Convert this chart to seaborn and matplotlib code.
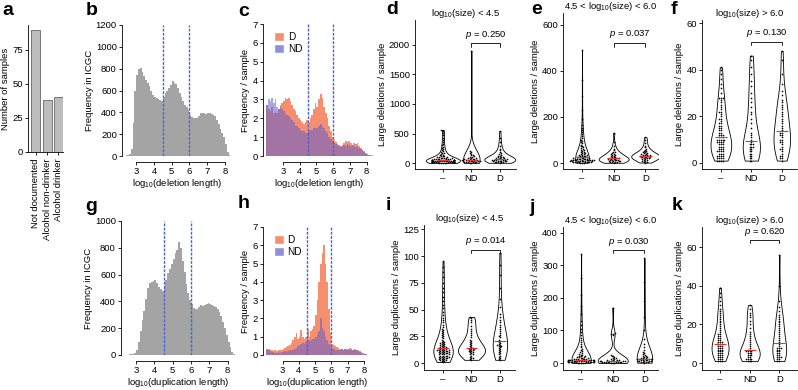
import matplotlib
matplotlib.use('Agg')
import warnings
import matplotlib.pyplot as plt
from matplotlib.patches import Patch
import numpy as np
import pandas as pd
import seaborn as sns

warnings.filterwarnings('ignore')

# ---- panel a: samples per group
groups_a = ['Not documented', 'Alcohol non-drinker', 'Alcohol drinker']
n_samples = [89, 38, 40]

# ---- histograms, 0.1-wide bins; first bin edge of each
icgc_start = 2.4     # panels b, g
grp_start = 2.0      # panels c, h

del_icgc = [5, 10, 20, 60, 300, 600, 740, 800, 810, 770,
            730, 700, 670, 640, 600, 560, 540, 530, 520, 515,
            500, 540, 580, 600, 620, 650, 690, 670, 660, 620,
            580, 540, 500, 470, 450, 420, 380, 360, 350, 345,
            350, 370, 390, 395, 390, 385, 395, 390, 385, 380,
            370, 330, 290, 250, 210, 170, 110, 40, 5, 0]
dup_icgc = [3, 3, 4, 5, 8, 15, 40, 100, 180, 260,
            330, 420, 500, 540, 545, 555, 560, 540, 510, 490,
            480, 500, 560, 610, 640, 680, 720, 760, 780, 840,
            800, 700, 620, 530, 460, 410, 380, 350, 340, 345,
            360, 370, 365, 375, 380, 385, 380, 370, 365, 360,
            345, 320, 290, 250, 200, 150, 100, 60, 25, 5]

del_nd = [2.7, 3.0, 2.9, 3.1, 2.8, 3.0, 2.6, 2.5, 2.6, 2.5,
          2.4, 2.3, 2.2, 2.1, 2.0, 1.9, 1.8, 1.6, 1.6, 1.5,
          1.4, 1.3, 1.3, 1.2, 1.2, 1.3, 1.4, 1.4, 1.5, 1.5,
          1.5, 1.6, 1.7, 1.6, 1.5, 1.3, 1.2, 1.0, 0.9, 0.8,
          0.7, 0.65, 0.6, 0.55, 0.5, 0.55, 0.6, 0.55, 0.65, 0.6,
          0.55, 0.6, 0.55, 0.5, 0.55, 0.45, 0.35, 0.3, 0.2, 0.12,
          0.06, 0.03, 0.02, 0.01]
del_d = [2.7, 2.5, 2.4, 2.6, 2.3, 2.4, 2.3, 2.5, 2.7, 2.8,
         2.9, 3.1, 3.0, 3.1, 2.9, 2.7, 2.5, 2.4, 2.2, 2.0,
         1.9, 1.8, 1.7, 1.8, 1.9, 1.8, 2.0, 2.2, 2.5, 2.8,
         2.6, 3.0, 3.3, 3.1, 2.6, 2.3, 2.0, 1.6, 1.3, 1.0,
         0.85, 0.75, 0.65, 0.6, 0.55, 0.6, 0.7, 0.8, 0.75, 0.8,
         0.7, 0.6, 0.7, 0.65, 0.7, 0.55, 0.4, 0.3, 0.25, 0.15,
         0.1, 0.06, 0.05, 0.04]
dup_nd = [0.3, 0.25, 0.2, 0.15, 0.15, 0.12, 0.12, 0.15, 0.12, 0.15,
          0.15, 0.2, 0.18, 0.22, 0.25, 0.3, 0.3, 0.35, 0.4, 0.5,
          0.55, 0.6, 0.65, 0.6, 0.7, 0.8, 0.75, 0.8, 0.85, 0.9,
          1.0, 1.1, 1.3, 2.0, 1.5, 1.3, 1.0, 0.8, 0.6, 0.5,
          0.4, 0.35, 0.3, 0.3, 0.3, 0.3, 0.35, 0.3, 0.35, 0.35,
          0.35, 0.3, 0.35, 0.3, 0.3, 0.25, 0.2, 0.15, 0.12, 0.08,
          0.05, 0.03, 0.02, 0.01]
dup_d = [0.35, 0.35, 0.3, 0.25, 0.2, 0.25, 0.2, 0.25, 0.3, 0.3,
         0.35, 0.4, 0.45, 0.5, 0.55, 0.65, 0.8, 1.0, 1.2, 0.9,
         1.0, 1.35, 1.0, 0.85, 1.0, 1.4, 1.0, 1.3, 1.4, 1.6,
         2.2, 3.0, 4.0, 5.0, 5.6, 6.0, 5.0, 4.0, 2.5, 1.2,
         0.6, 0.55, 0.5, 0.45, 0.4, 0.35, 0.35, 0.3, 0.35, 0.3,
         0.35, 0.4, 0.35, 0.3, 0.35, 0.3, 0.25, 0.2, 0.15, 0.1,
         0.06, 0.04, 0.02, 0.01]

# ---- per-sample counts (violins)
cats = ['–', 'ND', 'D']

d_none = [3, 5, 6, 8, 9, 10, 11, 12, 13, 14, 15, 16, 17, 18, 19, 20, 21, 22, 23, 24,
          25, 26, 27, 28, 29, 30, 31, 32, 33, 34, 35, 36, 37, 38, 39, 40, 41, 42, 43, 44,
          45, 46, 47, 48, 49, 50, 52, 54, 55, 57, 59, 61, 63, 65, 67, 70, 72, 75, 78, 81,
          85, 88, 92, 96, 101, 106, 112, 118, 125, 133, 142, 152, 163, 175, 188, 202, 218,
          235, 255, 278, 300, 330, 360, 395, 430, 470, 510, 545, 560]
d_nd = [4, 8, 12, 15, 18, 20, 22, 25, 28, 30, 33, 35, 38, 40, 42, 45, 48, 50, 52, 55,
        58, 62, 66, 70, 75, 80, 86, 92, 100, 108, 118, 130, 145, 160, 175, 190, 210, 1900]
d_d = [5, 10, 14, 18, 22, 25, 28, 31, 34, 37, 40, 43, 46, 49, 52, 55, 58, 61, 64, 68,
       72, 76, 80, 85, 90, 96, 102, 110, 118, 128, 140, 155, 170, 190, 215, 245, 290, 350,
       430, 540]

e_none = [1, 2, 2, 3, 3, 4, 4, 5, 5, 6, 6, 7, 7, 8, 8, 9, 9, 10, 10, 11, 11, 12, 12, 13,
          13, 14, 14, 15, 15, 16, 16, 17, 17, 18, 18, 19, 20, 21, 22, 23, 24, 25, 26, 27,
          28, 29, 30, 31, 32, 34, 35, 37, 39, 41, 43, 45, 47, 50, 52, 55, 58, 61, 65, 68,
          72, 76, 80, 85, 90, 96, 102, 110, 118, 126, 135, 145, 152, 165, 190, 230, 290,
          360, 490]
e_nd = [1, 3, 4, 5, 6, 7, 8, 9, 10, 11, 12, 13, 14, 15, 16, 17, 18, 19, 20, 21, 22, 24,
        26, 28, 30, 32, 34, 36, 38, 40, 43, 46, 50, 55, 62, 72, 90, 130]
e_d = [2, 4, 6, 8, 10, 12, 14, 16, 18, 20, 21, 22, 24, 25, 26, 27, 28, 29, 30, 31, 32,
       33, 34, 35, 36, 38, 40, 42, 44, 46, 48, 51, 54, 58, 62, 68, 76, 88, 100, 112]

f_none = [1, 1, 1, 1, 2, 2, 2, 2, 3, 3, 3, 3, 4, 4, 4, 5, 5, 5, 5, 6, 6, 6, 7, 7, 7, 8,
          8, 8, 9, 9, 9, 9, 10, 10, 10, 10, 10, 11, 11, 11, 12, 12, 12, 13, 13, 14, 14,
          15, 15, 16, 16, 17, 17, 18, 19, 19, 20, 21, 22, 22, 23, 24, 25, 26, 27, 28, 28,
          28, 30, 32, 34, 36, 38, 40, 41]
f_nd = [1, 1, 2, 2, 3, 3, 4, 4, 5, 5, 6, 6, 7, 7, 7, 8, 8, 8, 9, 10, 11, 12, 13, 15, 17,
        19, 21, 22, 24, 26, 28, 30, 33, 35, 38, 41, 44, 46]
f_d = [1, 2, 2, 3, 3, 4, 5, 6, 6, 7, 8, 9, 9, 10, 10, 11, 12, 12, 13, 13, 14, 15, 16,
       17, 18, 19, 20, 21, 22, 23, 24, 25, 26, 27, 29, 31, 34, 38, 44, 48]

i_none = [1, 2, 2, 3, 3, 3, 4, 4, 4, 5, 5, 5, 5, 6, 6, 6, 6, 7, 7, 7, 7, 8, 8, 8, 8, 9,
          9, 9, 9, 10, 10, 10, 10, 11, 11, 11, 11, 12, 12, 12, 12, 12, 13, 13, 13, 14, 14,
          14, 15, 15, 15, 16, 16, 17, 17, 18, 18, 19, 19, 20, 20, 21, 22, 23, 24, 25, 26,
          27, 28, 29, 30, 31, 32, 34, 36, 38, 40, 42, 45, 48, 51, 54, 58, 62, 66, 70, 75,
          80, 85, 90, 95]
i_nd = [3, 4, 5, 5, 6, 7, 8, 8, 9, 10, 10, 11, 11, 12, 12, 13, 13, 13, 14, 14, 15, 16,
        17, 18, 19, 20, 21, 22, 24, 26, 28, 30, 32, 35, 38, 40, 42, 43]
i_d = [3, 4, 5, 6, 7, 8, 9, 10, 11, 12, 13, 14, 15, 16, 16, 17, 17, 18, 19, 20, 21, 22,
       24, 25, 26, 28, 30, 32, 34, 36, 38, 40, 43, 46, 52, 60, 70, 82, 92, 103]

j_none = [0, 0, 1, 1, 1, 2, 2, 2, 2, 3, 3, 3, 3, 4, 4, 4, 4, 5, 5, 5, 5, 6, 6, 6, 6, 7,
          7, 7, 7, 8, 8, 8, 8, 9, 9, 9, 10, 10, 10, 11, 11, 12, 12, 13, 13, 14, 15, 16,
          17, 18, 19, 20, 21, 22, 24, 26, 28, 30, 33, 36, 40, 44, 48, 53, 58, 64, 70, 78,
          86, 95, 105, 118, 130, 150, 175, 210, 260, 335]
j_nd = [0, 1, 1, 2, 2, 3, 3, 3, 3, 4, 4, 4, 5, 5, 5, 5, 6, 6, 6, 7, 7, 8, 8, 9, 10, 11,
        12, 14, 16, 18, 20, 22, 25, 85, 88, 90, 92, 170]
j_d = [1, 2, 3, 3, 4, 5, 5, 6, 7, 7, 8, 9, 10, 10, 11, 11, 12, 12, 13, 14, 15, 16, 17,
       18, 20, 22, 24, 27, 30, 34, 40, 48, 58, 75, 100, 140, 190, 250, 322, 12]

k_none = [1, 1, 1, 2, 2, 2, 3, 3, 3, 4, 4, 4, 5, 5, 5, 6, 6, 6, 7, 7, 7, 8, 8, 8, 9, 9,
          9, 10, 10, 10, 10, 11, 11, 11, 12, 12, 13, 13, 14, 14, 15, 15, 16, 17, 18, 19,
          20, 21, 22, 23, 24, 25, 26, 27, 28, 30, 32, 34, 36, 39]
k_nd = [1, 1, 1, 2, 2, 2, 2, 3, 3, 4, 4, 4, 5, 5, 5, 6, 6, 6, 6, 7, 7, 8, 9, 10, 11, 12,
        13, 14, 15, 16, 18, 20, 22, 24, 25, 26, 28, 30]
k_d = [1, 1, 2, 2, 3, 3, 3, 4, 4, 5, 5, 6, 6, 7, 7, 8, 8, 8, 9, 10, 11, 12, 13, 14, 15,
       16, 17, 18, 19, 20, 21, 22, 23, 24, 25, 27, 29, 32, 40, 56]

p_values = ['0.250', '0.037', '0.130', '0.014', '0.030', '0.620']
titles = [r'log$_{10}$(size) < 4.5', r'4.5 < log$_{10}$(size) < 6.0',
          r'log$_{10}$(size) > 6.0']

# ---- style
sns.set_theme(style='ticks')
plt.rcParams['font.family'] = ['Liberation Sans', 'DejaVu Sans']
plt.rcParams.update({
    'mathtext.fontset': 'custom',
    'mathtext.rm': 'Liberation Sans',
    'mathtext.it': 'Liberation Sans:italic',
    'mathtext.default': 'regular',
    'axes.linewidth': 0.6,
    'xtick.major.width': 0.6, 'ytick.major.width': 0.6,
    'xtick.major.size': 2.5, 'ytick.major.size': 2.5,
    'xtick.major.pad': 1.2, 'ytick.major.pad': 1.2,
    'xtick.labelsize': 6.8, 'ytick.labelsize': 6.8,
    'axes.labelsize': 6.8, 'axes.labelpad': 1.5,
    'text.color': 'black', 'axes.labelcolor': 'black',
    'xtick.color': 'black', 'ytick.color': 'black', 'axes.edgecolor': 'black',
})

W, H = 798, 390
fig = plt.figure(figsize=(W / 100, H / 100), dpi=100)


def box(l, t, r, b):
    return fig.add_axes([l / W, 1 - b / H, (r - l) / W, (b - t) / H])


def letter(x, y, s):
    fig.text(x / W, 1 - y / H, s, fontsize=14, fontweight='bold', va='top', ha='left')


GREY = '#a4a4a4'
COL_D = '#f67b55'
COL_ND = '#5f5fd0'
DASH = '#4a62d6'

# ---- a
ax = box(28, 25, 63, 152)
sns.barplot(x=groups_a, y=n_samples, color='#bdbdbd', edgecolor='#666666',
            linewidth=0.6, width=0.8, saturation=1, ax=ax)
ax.set_ylim(0, 93)
ax.set_xlim(-0.7, 2.4)
ax.set_yticks([0, 25, 50, 75])
ax.tick_params(axis='x', rotation=90, pad=2)
ax.set_ylabel('Number of samples')
ax.set_xlabel('')
sns.despine(ax=ax)
letter(2, 2, 'a')


def hist_panel(ax, start, heights, color, alpha):
    n = len(heights)
    edges = [round(start + 0.1 * k, 2) for k in range(n + 1)]
    df = pd.DataFrame({'x': np.array(edges[:-1]) + 0.05, 'w': heights})
    sns.histplot(data=df, x='x', weights='w', bins=edges, color=color, alpha=alpha,
                 edgecolor='none', linewidth=0, ax=ax)


def finish_hist(ax, ytop, ystep, xlab, ylab):
    for v in (4.5, 6.0):
        ax.axvline(v, color=DASH, ls=(0, (2, 1)), lw=1)
    ax.set_ylim(0, ytop)
    ax.set_yticks(np.arange(0, ytop + 0.01, ystep))
    ax.set_xticks([3, 4, 5, 6, 7, 8])
    ax.set_xlabel(xlab, labelpad=0.3)
    ax.set_ylabel(ylab)
    sns.despine(ax=ax)
    ax.spines['bottom'].set_position(('outward', 4.5))
    ax.spines['bottom'].set_bounds(3, 8)
    ax.spines['left'].set_bounds(0, ytop)


def add_legend(ax):
    ax.legend(handles=[Patch(facecolor='#f5906e', label='D'),
                       Patch(facecolor='#8f8fdc', label='ND')],
              loc='upper left', bbox_to_anchor=(0.06, 0.97), frameon=False, fontsize=7.2,
              handlelength=1, handleheight=1, handletextpad=0.4, labelspacing=0.2,
              borderaxespad=0)


# ---- b
ax = box(122, 25, 233, 156)
hist_panel(ax, icgc_start, del_icgc, GREY, 1)
ax.set_xlim(2.2, 8.45)
finish_hist(ax, 1200, 200, r'log$_{10}$(deletion length)', 'Frequency in ICGC')
letter(86, 2, 'b')

# ---- c
ax = box(263, 24, 375, 156)
hist_panel(ax, grp_start, del_d, COL_D, 0.85)
hist_panel(ax, grp_start, del_nd, COL_ND, 0.55)
ax.set_xlim(1.8, 8.5)
finish_hist(ax, 7, 1, r'log$_{10}$(deletion length)', 'Frequency / sample')
add_legend(ax)
letter(238, 3, 'c')

# ---- g
ax = box(121, 221, 236, 355)
hist_panel(ax, icgc_start, dup_icgc, GREY, 1)
ax.set_xlim(2.18, 8.45)
finish_hist(ax, 1000, 200, r'log$_{10}$(duplication length)', 'Frequency in ICGC')
letter(85, 198, 'g')

# ---- h
ax = box(263, 227, 372, 355)
hist_panel(ax, grp_start, dup_d, COL_D, 0.85)
hist_panel(ax, grp_start, dup_nd, COL_ND, 0.55)
ax.set_xlim(1.8, 8.5)
finish_hist(ax, 7, 1, r'log$_{10}$(duplication length)', 'Frequency / sample')
add_legend(ax)
letter(238, 195, 'h')


def violin_panel(rect, data, ylim, yticks, xlim, title, pval, brk, ylab, vwidth=0.9):
    ax = box(*rect)
    df = pd.DataFrame({'grp': sum([[c] * len(v) for c, v in zip(cats, data)], []),
                       'val': sum([list(v) for v in data], [])})
    sns.violinplot(data=df, x='grp', y='val', order=cats, inner=None, cut=0,
                   density_norm='area', width=vwidth, color='white', linecolor='black',
                   linewidth=0.6, saturation=1, ax=ax)
    sns.swarmplot(data=df, x='grp', y='val', order=cats, color='black', size=1.2,
                  ax=ax)
    for i, v in enumerate(data):
        ax.hlines(np.median(v), i - 0.2, i + 0.2, color='#e8302c', lw=0.8, zorder=5)
    ax.set_ylim(*ylim)
    ax.set_xlim(*xlim)
    ax.set_yticks(yticks)
    ax.set_xlabel('')
    ax.set_ylabel(ylab)
    ax.set_title(title, fontsize=6.8, pad=3)
    tr = ax.get_xaxis_transform()
    ax.plot([1, 1, 2, 2], [brk - 0.025, brk, brk, brk - 0.025], color='black', lw=0.6,
            transform=tr, clip_on=False)
    ax.text(1.5, brk + 0.015, r'$\mathit{p}$ = ' + pval, transform=tr, ha='center',
            va='bottom', fontsize=6.8)
    sns.despine(ax=ax)
    return ax


violin_panel((415, 20, 516, 169), [d_none, d_nd, d_d], (-100, 2420),
             [0, 500, 1000, 1500, 2000], (-0.98, 2.57), titles[0], p_values[0], 0.845,
             'Large deletions / sample', 1.2)
letter(386, 1, 'd')
violin_panel((563, 13, 658, 169), [e_none, e_nd, e_d], (-26, 652),
             [0, 200, 400, 600], (-0.6, 2.4), titles[1], p_values[1], 0.81,
             'Large deletions / sample', 0.95)
letter(531, 1, 'e')
violin_panel((702, 20, 797, 169), [f_none, f_nd, f_d], (-2.6, 61.3),
             [0, 20, 40, 60], (-0.62, 2.5), titles[2], p_values[2], 0.855,
             'Large deletions / sample', 0.68)
letter(671, 1, 'f')
violin_panel((424, 225, 515, 370), [i_none, i_nd, i_d], (-6.5, 129),
             [0, 25, 50, 75, 100, 125], (-0.67, 2.53), titles[0], p_values[3], 0.83,
             'Large duplications / sample', 0.95)
letter(386, 197, 'i')
violin_panel((563, 227, 658, 370), [j_none, j_nd, j_d], (-21.5, 418),
             [0, 100, 200, 300, 400], (-0.57, 2.43), titles[1], p_values[4], 0.84,
             'Large duplications / sample', 0.95)
letter(529, 199, 'j')
violin_panel((702, 227, 797, 370), [k_none, k_nd, k_d], (-3.6, 70.4),
             [0, 20, 40, 60], (-0.61, 2.6), titles[2], p_values[5], 0.91,
             'Large duplications / sample', 0.68)
letter(672, 197, 'k')

fig.savefig('out.png', dpi=100)
